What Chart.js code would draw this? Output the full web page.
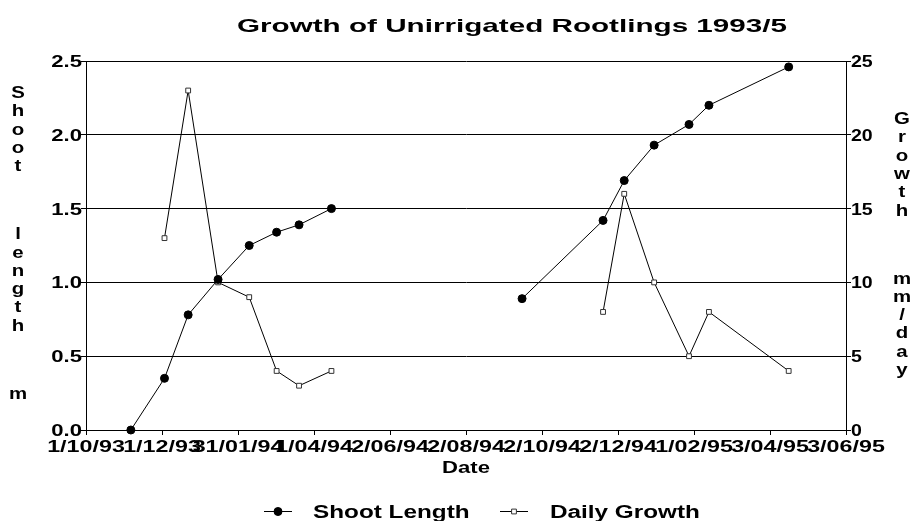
<!DOCTYPE html>
<html>
<head>
<meta charset="utf-8">
<script src="https://cdn.jsdelivr.net/npm/chart.js@4.4.1/dist/chart.umd.min.js"></script>
<style>
  html, body { margin: 0; padding: 0; background: #fff; }
</style>
</head>
<body>
<canvas id="rootChart" width="915" height="521"></canvas>
<script>
const titleText = 'Growth of Unirrigated Rootlings 1993/5';
const xTitle = 'Date';
const xTickLabels = ['1/10/93', '1/12/93', '31/01/94', '1/04/94', '2/06/94', '2/08/94',
                     '2/10/94', '2/12/94', '1/02/95', '3/04/95', '3/06/95'];
const sampleDates = ['6/11/93', '3/12/93', '22/12/93', '15/01/94', '9/02/94', '3/03/94', '21/03/94', '16/04/94',
                     '16/09/94', '20/11/94', '7/12/94', '31/12/94', '28/01/95', '13/02/95', '18/04/95'];
const shootLength = [0.00, 0.35, 0.78, 1.02, 1.25, 1.34, 1.39, 1.50, 0.89, 1.42, 1.69, 1.93, 2.07, 2.20, 2.46];
const dailyGrowth = [null, 13, 23, 10, 9, 4, 3, 4, null, 8, 16, 10, 5, 8, 4];
const secondSeasonStart = 8; // no line between the two seasons
const leftAxisWords = ['Shoot', 'length', 'm'];
const rightAxisWords = ['Growth', 'mm/day'];

function parseDate(s) {
    const [d, m, y] = s.split('/').map(Number);
    return Date.UTC(1900 + y, m - 1, d);
}
const startMs = parseDate(xTickLabels[0]);
function dayOf(s) {
    return Math.round((parseDate(s) - startMs) / 86400000);
}
const axisEnd = dayOf(xTickLabels[xTickLabels.length - 1]);
const tickStep = axisEnd / (xTickLabels.length - 1);

function toPoints(values) {
    const pts = [];
    sampleDates.forEach((d, i) => {
        if (i === secondSeasonStart) {
            pts.push({ x: (dayOf(sampleDates[i - 1]) + dayOf(d)) / 2, y: null });
        }
        pts.push({ x: dayOf(d), y: values[i] });
    });
    return pts;
}

// the original text is wide, so labels are drawn by hand with a horizontal stretch
function drawText(ctx, text, x, y, size, align, sx) {
    ctx.save();
    ctx.font = 'bold ' + size + 'px "Liberation Sans", Arial, sans-serif';
    ctx.textAlign = align;
    ctx.textBaseline = 'alphabetic';
    ctx.fillStyle = '#000';
    ctx.translate(x, y);
    ctx.scale(sx, 1);
    ctx.fillText(text, 0, 0);
    ctx.restore();
}

function drawStack(ctx, words, cx, firstBase, step, gap) {
    let y = firstBase;
    words.forEach((w, wi) => {
        if (wi > 0) y += gap - step;
        for (const ch of w) {
            drawText(ctx, ch, cx, y, 17, 'center', 1.2);
            y += step;
        }
    });
}

const textPlugin = {
    id: 'stretchedText',
    afterDraw(chart) {
        const ctx = chart.ctx;
        const { x, y, y1 } = chart.scales;

        drawText(ctx, titleText, 512, 32, 19, 'center', 1.56);

        x.ticks.forEach((t, i) => {
            drawText(ctx, xTickLabels[i], x.getPixelForValue(t.value), 452, 17, 'center', 1.37);
        });
        y.ticks.forEach(t => {
            drawText(ctx, t.value.toFixed(1), y.right - 4, y.getPixelForValue(t.value) + 6, 17, 'right', 1.3);
        });
        y1.ticks.forEach(t => {
            drawText(ctx, String(t.value), y1.left + 5, y1.getPixelForValue(t.value) + 6, 17, 'left', 1.15);
        });

        drawText(ctx, xTitle, (x.left + x.right) / 2, 473, 17, 'center', 1.3);

        drawStack(ctx, leftAxisWords, 18, 98, 18.3, 68);
        drawStack(ctx, rightAxisWords, 902, 124, 18.3, 68);

        // legend
        const ly = 511;
        const items = [
            { ds: chart.data.datasets[0], x0: 264, tx: 313 },
            { ds: chart.data.datasets[1], x0: 500, tx: 550 }
        ];
        items.forEach(it => {
            ctx.save();
            ctx.strokeStyle = '#000';
            ctx.lineWidth = 1;
            ctx.beginPath();
            ctx.moveTo(it.x0, ly + 0.5);
            ctx.lineTo(it.x0 + 28, ly + 0.5);
            ctx.stroke();
            ctx.fillStyle = it.ds.pointBackgroundColor;
            ctx.strokeStyle = it.ds.pointBorderColor;
            ctx.lineWidth = it.ds.pointBorderWidth;
            Chart.helpers.drawPoint(ctx, {
                pointStyle: it.ds.pointStyle,
                radius: it.ds.pointRadius,
                borderWidth: it.ds.pointBorderWidth,
                rotation: 0
            }, it.x0 + 14, ly + 0.5);
            ctx.restore();
            drawText(ctx, it.ds.label, it.tx, ly + 7, 18, 'left', 1.35);
        });
    }
};

document.addEventListener('DOMContentLoaded', function () {
    const ctx = document.getElementById('rootChart').getContext('2d');

    new Chart(ctx, {
        type: 'line',
        data: {
            datasets: [{
                label: 'Shoot Length',
                data: toPoints(shootLength),
                yAxisID: 'y',
                borderColor: '#000',
                borderWidth: 1,
                pointStyle: 'circle',
                pointRadius: 4,
                pointBackgroundColor: '#000',
                pointBorderColor: '#000',
                pointBorderWidth: 1,
                tension: 0,
                spanGaps: false,
                clip: false
            }, {
                label: 'Daily Growth',
                data: toPoints(dailyGrowth),
                yAxisID: 'y1',
                borderColor: '#000',
                borderWidth: 1,
                pointStyle: 'rect',
                pointRadius: 3.4,
                pointBackgroundColor: '#fff',
                pointBorderColor: '#333',
                pointBorderWidth: 1,
                tension: 0,
                spanGaps: false,
                clip: false
            }]
        },
        options: {
            responsive: false,
            animation: false,
            devicePixelRatio: 1,
            layout: { padding: { left: 81, right: 64, top: 61, bottom: 86 } },
            plugins: {
                legend: { display: false },
                title: { display: false },
                tooltip: { enabled: false }
            },
            scales: {
                x: {
                    type: 'linear',
                    min: 0,
                    max: axisEnd,
                    ticks: { stepSize: tickStep, display: false },
                    grid: { drawOnChartArea: false, drawTicks: true, tickLength: 5, color: '#000' },
                    border: { color: '#000', width: 1 }
                },
                y: {
                    position: 'left',
                    min: 0,
                    max: 2.5,
                    ticks: { stepSize: 0.5, display: false },
                    grid: { color: '#000', lineWidth: 1, tickLength: 5 },
                    border: { color: '#000', width: 1 }
                },
                y1: {
                    position: 'right',
                    min: 0,
                    max: 25,
                    ticks: { stepSize: 5, display: false },
                    grid: { drawOnChartArea: false, tickLength: 5, color: '#000' },
                    border: { color: '#000', width: 1 }
                }
            }
        },
        plugins: [textPlugin]
    });
});
</script>
</body>
</html>
